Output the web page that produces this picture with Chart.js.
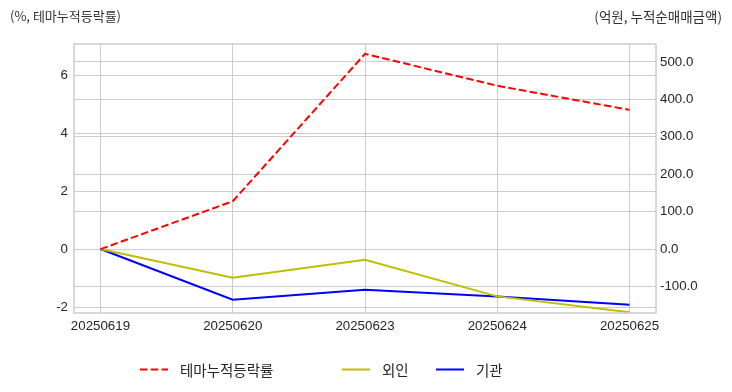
<!DOCTYPE html>
<html>
<head>
<meta charset="utf-8">
<script src="https://cdn.jsdelivr.net/npm/chart.js@4/dist/chart.umd.min.js"></script>
<style>
  html, body { margin: 0; padding: 0; background: #fff; }
  canvas { display: block; }
</style>
</head>
<body>
<canvas id="c" width="732" height="392"></canvas>
<script>
// ---- data ----
const dates = ['20250619', '20250620', '20250623', '20250624', '20250625'];
const themeReturn = [0, 1.65, 6.73, 5.63, 4.80];          // %, left axis
const foreign = [0, -76.7, -28.6, -126.6, -169.0];         // 억원, right axis
const institution = [0, -135.6, -108.8, -126.6, -149.0];   // 억원, right axis
const leftTicks = [-2, 0, 2, 4, 6];
const rightTicks = [-100, 0, 100, 200, 300, 400, 500];
const seriesNames = ['테마누적등락률', '외인', '기관'];
const leftTitle = '(%, 테마누적등락률)';
const rightTitle = '(억원, 누적순매매금액)';

const toPts = arr => arr.map((v, i) => ({ x: i, y: v }));

const GRID = '#cccccc';
const TXT = '#262626';
const tickFont = { family: '"Liberation Sans", Arial, sans-serif', size: 13.3 };
const krFont = '"Noto Sans CJK KR", "Noto Sans", sans-serif';

const colors = ['#ff0000', '#bfbf00', '#0000ff'];
const dashes = [[7.5, 3.3], [], []];

const framePlugin = {
  id: 'frame',
  afterDraw(chart) {
    const { ctx, chartArea: a } = chart;
    ctx.save();
    ctx.strokeStyle = GRID;
    ctx.lineWidth = 1.5;
    ctx.strokeRect(a.left, a.top, a.right - a.left, a.bottom - a.top);
    // axis titles
    ctx.fillStyle = '#333333';
    ctx.textBaseline = 'middle';
    ctx.textAlign = 'left';
    ctx.font = '13px ' + krFont;
    ctx.fillText(leftTitle, 10, 16.5);
    ctx.textAlign = 'right';
    ctx.font = '13.5px ' + krFont;
    ctx.fillText(rightTitle, 722, 16.5);
    // legend
    const items = [
      { x: 140, text: seriesNames[0] },
      { x: 342, text: seriesNames[1] },
      { x: 436, text: seriesNames[2] }
    ];
    const ly = 369.5;
    ctx.font = '14.5px ' + krFont;
    ctx.textAlign = 'left';
    ctx.fillStyle = TXT;
    items.forEach((it, i) => {
      ctx.save();
      ctx.strokeStyle = colors[i];
      ctx.lineWidth = 2;
      ctx.setLineDash(dashes[i]);
      ctx.beginPath();
      ctx.moveTo(it.x, ly);
      ctx.lineTo(it.x + 28, ly);
      ctx.stroke();
      ctx.restore();
      ctx.fillText(it.text, it.x + 40, ly + 0.5);
    });
    ctx.restore();
  }
};

new Chart(document.getElementById('c'), {
  type: 'line',
  data: {
    datasets: [
      { label: seriesNames[0], data: toPts(themeReturn), yAxisID: 'y', borderColor: colors[0], borderWidth: 2, borderDash: dashes[0], pointRadius: 0, fill: false, tension: 0 },
      { label: seriesNames[1], data: toPts(foreign), yAxisID: 'y1', borderColor: colors[1], borderWidth: 2, pointRadius: 0, fill: false, tension: 0 },
      { label: seriesNames[2], data: toPts(institution), yAxisID: 'y1', borderColor: colors[2], borderWidth: 2, pointRadius: 0, fill: false, tension: 0 }
    ]
  },
  options: {
    responsive: false,
    animation: false,
    devicePixelRatio: 1,
    layout: { padding: { top: 44, left: 0, right: 0, bottom: 0 } },
    plugins: { legend: { display: false }, tooltip: { enabled: false } },
    scales: {
      x: {
        type: 'linear',
        min: -0.2,
        max: 4.2,
        afterBuildTicks: s => { s.ticks = dates.map((d, i) => ({ value: i })); },
        afterFit: s => { s.height = 79; },
        grid: { color: GRID, lineWidth: 1, drawTicks: false },
        border: { display: false },
        ticks: { color: TXT, font: tickFont, padding: 5, maxRotation: 0, autoSkip: false, callback: v => dates[v] }
      },
      y: {
        position: 'left',
        min: -2.2,
        max: 7.07,
        afterBuildTicks: s => { s.ticks = leftTicks.map(v => ({ value: v })); },
        afterFit: s => { s.width = 74; },
        grid: { color: GRID, lineWidth: 1, drawTicks: false },
        border: { display: false },
        ticks: { color: TXT, font: tickFont, padding: 6, callback: v => String(v) }
      },
      y1: {
        position: 'right',
        min: -171,
        max: 548,
        afterBuildTicks: s => { s.ticks = rightTicks.map(v => ({ value: v })); },
        afterFit: s => { s.width = 76; },
        grid: { color: GRID, lineWidth: 1, drawTicks: false },
        border: { display: false },
        ticks: { color: TXT, font: tickFont, padding: 4, callback: v => Number(v).toFixed(1) }
      }
    }
  },
  plugins: [framePlugin]
});
</script>
</body>
</html>
